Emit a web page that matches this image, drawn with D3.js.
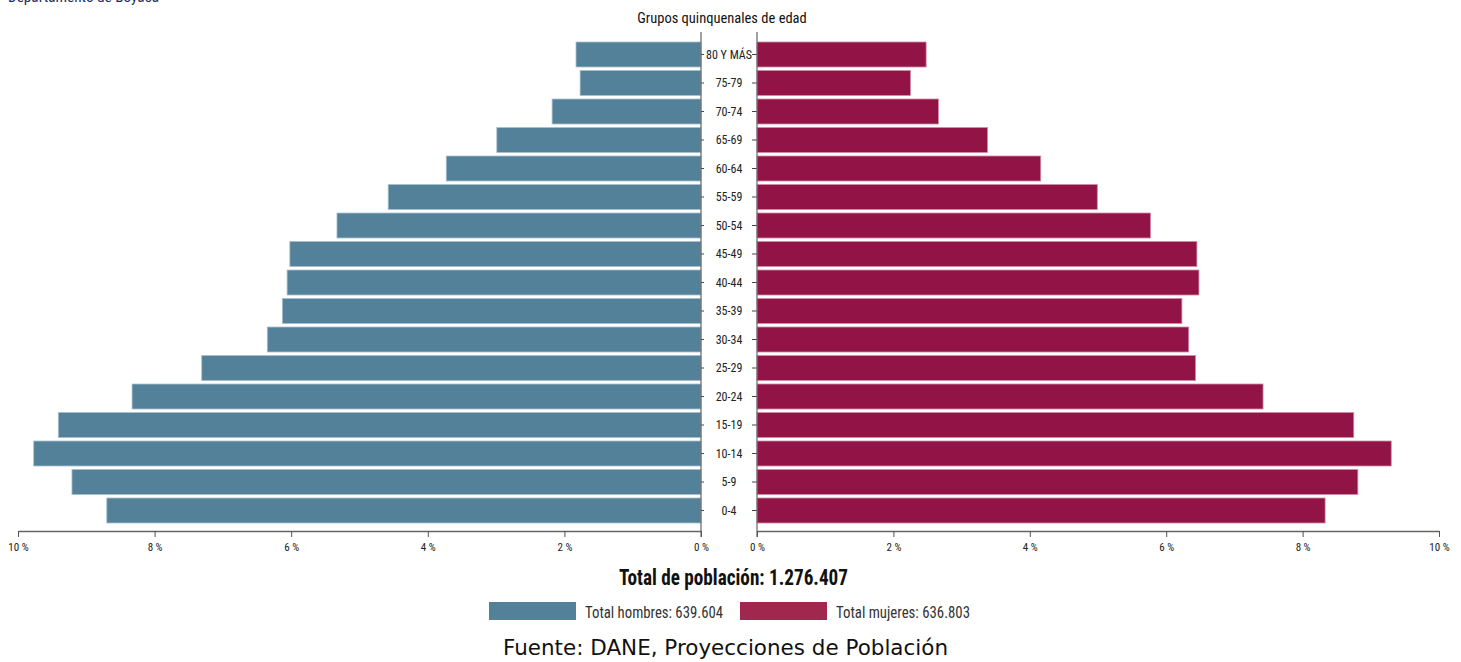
<!DOCTYPE html>
<html>
<head>
<meta charset="utf-8">
<script src="https://cdn.jsdelivr.net/npm/d3@7"></script>
<style>
  html, body { margin: 0; padding: 0; background: #fff; }
  svg { display: block; }
  .narrow { font-family: "Liberation Sans Narrow", "Arial Narrow", "Roboto Condensed", "Liberation Sans", sans-serif; }
</style>
</head>
<body>
<svg id="chart" width="1461" height="662"></svg>
<script>
const categories = ["80 Y MÁS","75-79","70-74","65-69","60-64","55-59","50-54","45-49","40-44","35-39","30-34","25-29","20-24","15-19","10-14","5-9","0-4"];
const hombres = [1.83,1.77,2.18,2.99,3.73,4.58,5.33,6.02,6.06,6.13,6.35,7.31,8.33,9.41,9.77,9.21,8.70];
const mujeres = [2.48,2.25,2.66,3.38,4.16,4.99,5.77,6.45,6.48,6.23,6.33,6.43,7.42,8.75,9.30,8.81,8.33];
const tickValues = [0,2,4,6,8,10];
const titleText = "Grupos quinquenales de edad";
const regionText = "Departamento de Boyacá";
const totalText = "Total de población: 1.276.407";
const legendLabels = ["Total hombres: 639.604","Total mujeres: 636.803"];
const sourceText = "Fuente: DANE, Proyecciones de Población";

const colMale = "#53819a", colFemale = "#921447";
const svg = d3.select("#chart");

const xL = d3.scaleLinear().domain([0,10]).range([701,18]);
const xR = d3.scaleLinear().domain([0,10]).range([757,1439]);
const y = d3.scaleBand().domain(categories).range([40.25,524.75]).paddingInner(0.123).paddingOuter(0.0615);
const axisY = 531;

// region title (clipped at top, as in the reference)
svg.append("text").attr("class","narrow").attr("x",8).attr("y",1.5)
  .attr("font-size",14).attr("textLength",151).attr("lengthAdjust","spacingAndGlyphs")
  .attr("fill","#1b2d5c").text(regionText);

// axis title
svg.append("text").attr("class","narrow").attr("x",722).attr("y",23)
  .attr("text-anchor","middle").attr("font-size",14.5).attr("fill","#111").text(titleText);

// bars
svg.append("g").selectAll("rect").data(categories).join("rect")
  .attr("x",(d,i)=>xL(hombres[i])).attr("y",d=>y(d))
  .attr("width",(d,i)=>xL(0)-xL(hombres[i])).attr("height",y.bandwidth())
  .attr("fill",colMale).attr("stroke","#a9c0cd").attr("stroke-width",0.8);
svg.append("g").selectAll("rect").data(categories).join("rect")
  .attr("x",xR(0)).attr("y",d=>y(d))
  .attr("width",(d,i)=>xR(mujeres[i])-xR(0)).attr("height",y.bandwidth())
  .attr("fill",colFemale).attr("stroke","#d08aa6").attr("stroke-width",0.8);

// center vertical lines with ticks
const gl = svg.append("g").attr("transform",`translate(${xL(0)},0)`)
  .call(d3.axisRight(y).tickSize(3).tickFormat(""));
const gr = svg.append("g").attr("transform",`translate(${xR(0)},0)`)
  .call(d3.axisLeft(y).tickSize(5).tickFormat(""));
[gl,gr].forEach(g=>{
  g.select(".domain").remove();
  g.selectAll(".tick line").attr("stroke","#444");
});
svg.append("line").attr("x1",xL(0)).attr("x2",xL(0)).attr("y1",32).attr("y2",axisY+6).attr("stroke","#666").attr("stroke-width",1.2);
svg.append("line").attr("x1",xR(0)).attr("x2",xR(0)).attr("y1",32).attr("y2",axisY+6).attr("stroke","#666").attr("stroke-width",1.2);

// category labels
svg.append("g").selectAll("text").data(categories).join("text")
  .attr("class","narrow").attr("x",729).attr("y",d=>y(d)+y.bandwidth()/2)
  .attr("dy","0.35em").attr("text-anchor","middle").attr("font-size",12).attr("fill","#222")
  .text(d=>d);

// bottom axes
function styleAxis(g){
  g.select(".domain").attr("stroke","#666").attr("stroke-width",1.6);
  g.selectAll(".tick line").attr("stroke","#555");
  g.selectAll(".tick text").attr("class","narrow").attr("font-size",11).attr("fill","#222")
    .attr("font-family",null);
}
const axL = svg.append("g").attr("transform",`translate(0,${axisY})`)
  .call(d3.axisBottom(xL).tickValues(tickValues).tickSize(6).tickPadding(6).tickSizeOuter(0).tickFormat(d=>d+" %"));
styleAxis(axL);
const axR = svg.append("g").attr("transform",`translate(0,${axisY})`)
  .call(d3.axisBottom(xR).tickValues(tickValues).tickSize(6).tickPadding(6).tickSizeOuter(0).tickFormat(d=>d+" %"));
styleAxis(axR);

// total
svg.append("text").attr("class","narrow").attr("x",733.5).attr("y",585)
  .attr("text-anchor","middle").attr("font-size",22).attr("font-weight","bold")
  .attr("textLength",229).attr("lengthAdjust","spacingAndGlyphs")
  .attr("fill","#111").text(totalText);

// legend
const legend = [{c:"#53819a",x:489,t:legendLabels[0],w:138},{c:"#a0284e",x:740,t:legendLabels[1],w:134}];
legend.forEach(l=>{
  svg.append("rect").attr("x",l.x).attr("y",602).attr("width",87).attr("height",18).attr("fill",l.c);
  svg.append("text").attr("class","narrow").attr("x",l.x+96).attr("y",618)
    .attr("font-size",16.5).attr("textLength",l.w).attr("lengthAdjust","spacingAndGlyphs")
    .attr("fill","#333").text(l.t);
});

// source
svg.append("text").attr("x",725.5).attr("y",655).attr("text-anchor","middle")
  .attr("font-family","'DejaVu Sans', Verdana, sans-serif").attr("font-size",20.5)
  .attr("textLength",445).attr("lengthAdjust","spacingAndGlyphs")
  .attr("fill","#111").text(sourceText);
</script>
</body>
</html>
